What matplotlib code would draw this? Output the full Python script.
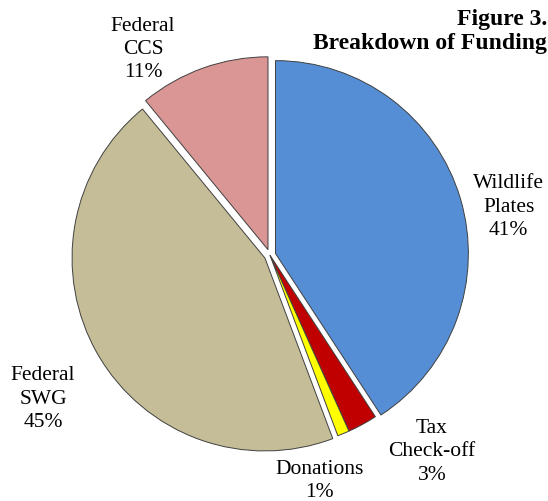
import matplotlib
matplotlib.use("Agg")
import matplotlib.pyplot as plt

# Funding shares (percent), clockwise from 12 o'clock
categories = ["Wildlife\nPlates", "Tax\nCheck-off", "Donations", "Federal\nSWG", "Federal\nCCS"]
shares = [41, 2.5, 1, 45, 11]
share_labels = ["41%", "3%", "1%", "45%", "11%"]
colors = ["#558ED5", "#C00000", "#FFFF00", "#C4BD97", "#D99694"]
explode = [0.03, 0.0, 0.0, 0.03, 0.03]

plt.rcParams["font.family"] = ["Liberation Serif", "DejaVu Serif"]

fig = plt.figure(figsize=(5.48, 5.01), dpi=100)
ax = fig.add_axes([0.0701, 0.0287, 0.845, 0.924])

wedges, _ = ax.pie(shares, colors=colors, explode=explode, startangle=90,
                   counterclock=False,
                   wedgeprops=dict(edgecolor="#404040", linewidth=0.7))
ax.set_xlim(-1.2, 1.2)
ax.set_ylim(-1.2, 1.2)
ax.set_aspect("equal")
ax.axis("off")

# label placement (data coords, pie radius = 1)
label_pos = [(1.238, 0.249), (0.839, -1.02), (0.259, -1.171),
             (-1.176, -0.746), (-0.658, 1.067)]
for name, pct, (x, y) in zip(categories, share_labels, label_pos):
    ax.text(x, y, name + "\n" + pct, ha="center", va="center",
            fontsize=15.5, linespacing=1.3, clip_on=False)

fig.text(0.998, 0.982, "Figure 3.\nBreakdown of Funding", ha="right", va="top",
         fontsize=17, fontweight="bold", linespacing=1.2)

fig.savefig("out.png", dpi=100)
